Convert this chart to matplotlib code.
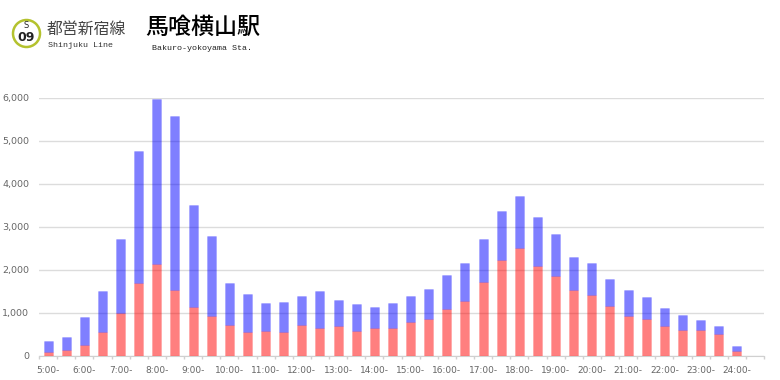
import matplotlib
matplotlib.use("Agg")
import matplotlib.pyplot as plt
from matplotlib.patches import Circle
import numpy as np

hours = list(range(5, 25))
tick_labels = [f"{h}:00-" for h in hours]

# half-hour slots from 5:00 to 24:00, stacked
red_values = [80, 130, 250, 540, 980, 1680, 2130, 1520, 1120, 930, 700, 540, 560,
              550, 700, 640, 690, 560, 650, 640, 790, 840, 1090, 1270, 1700, 2230,
              2510, 2090, 1860, 1520, 1410, 1150, 930, 840, 690, 600, 590, 500, 100]
blue_values = [250, 300, 640, 970, 1730, 3070, 3840, 4040, 2390, 1840, 990, 890, 650,
               690, 690, 850, 590, 630, 470, 590, 600, 700, 790, 870, 1010, 1140,
               1200, 1140, 960, 780, 730, 620, 590, 510, 420, 350, 230, 190, 110]
y_ticks = [0, 1000, 2000, 3000, 4000, 5000, 6000]

W, H = 780, 380
JP = ["Noto Sans CJK JP", "DejaVu Sans"]


def main():
    fig = plt.figure(figsize=(W / 100, H / 100), dpi=100, facecolor="white")
    ax = fig.add_axes([39 / W, 1 - 355.5 / H, 725 / W, 258 / H])

    x = np.arange(len(red_values))
    ax.bar(x, red_values, width=0.5, facecolor=(1, 0, 0, 0.5),
           edgecolor=(1, 0, 0, 0.12), linewidth=0.6, zorder=3)
    ax.bar(x, blue_values, bottom=red_values, width=0.5, facecolor=(0, 0, 1, 0.5),
           edgecolor=(0, 0, 1, 0.12), linewidth=0.6, zorder=3)

    ax.set_xlim(-0.5, 39.5)
    ax.set_ylim(0, 6000)
    ax.set_yticks(y_ticks)
    ax.set_yticklabels([f"{v:,}" for v in y_ticks], fontsize=6.8, color="#666666")
    ax.set_xticks(np.arange(0, 40, 2))
    ax.set_xticklabels(tick_labels, fontsize=6.5, color="#666666")
    ax.set_xticks(np.arange(-0.5, 40, 1), minor=True)
    ax.tick_params(axis="x", which="major", length=0, pad=7.5)
    ax.tick_params(axis="x", which="minor", length=2.5, color="#d0d0d0", width=1)
    ax.tick_params(axis="y", length=0, pad=7)

    ax.grid(axis="y", color="#dcdcdc", linewidth=1, zorder=0)
    ax.set_axisbelow(True)
    for side in ["top", "right", "left"]:
        ax.spines[side].set_visible(False)
    ax.spines["bottom"].set_color("#d0d0d0")

    # header, placed in pixel coordinates
    top = fig.add_axes([0, 0, 1, 1], facecolor="none")
    top.set_xlim(0, W)
    top.set_ylim(H, 0)
    top.axis("off")
    top.add_patch(Circle((26.5, 33.5), 13.5, facecolor="white", edgecolor="#b4c22e", linewidth=1.8))
    top.text(26.5, 26, "S", fontsize=6, ha="center", va="center", color="#222222")
    top.text(26.5, 37.5, "09", fontsize=9, fontweight="bold", ha="center", va="center", color="#222222")
    top.text(47, 29, "都営新宿線", fontsize=11.4, family=JP, ha="left", va="center", color="#444444")
    top.text(47.5, 45.5, "Shinjuku Line", fontsize=6.0, family="Liberation Mono", ha="left", va="center", color="#333333")
    top.text(145, 27, "馬喰横山駅", fontsize=16.6, family=JP, fontweight="medium", ha="left", va="center", color="black")
    top.text(152, 49, "Bakuro-yokoyama Sta.", fontsize=6.0, family="Liberation Mono", ha="left", va="center", color="#222222")

    fig.savefig("out.png", dpi=100)


if __name__ == "__main__":
    main()
